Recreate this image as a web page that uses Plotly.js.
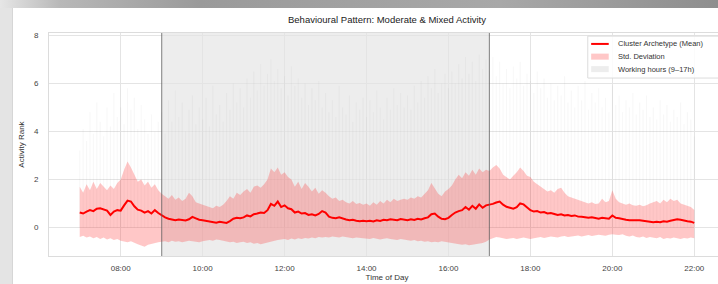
<!DOCTYPE html>
<html>
<head>
<meta charset="utf-8">
<script src="https://cdn.plot.ly/plotly-3.0.1.min.js"></script>
<style>
  html, body { margin: 0; padding: 0; width: 718px; height: 284px; overflow: hidden; background: #e4e4e4; }
  #topbar { position: absolute; left: 0; top: 0; width: 718px; height: 8px;
            background: linear-gradient(to right, #e6e6e6 0px, #b8b8b8 60px, #9a9a9a 200px, #a8a8a8 500px, #8e8e8e 718px); }
  #panel { position: absolute; left: 12px; top: 8px; width: 720px; height: 280px; background: #ffffff;
           border-left: 1px solid #d6d6d6; }
  #chart { position: absolute; left: 0; top: 0; width: 730px; height: 284px; }
</style>
</head>
<body>
<div id="topbar"></div>
<div id="panel"></div>
<div id="chart"></div>
<script>
// ---- Data (5-minute steps, 07:00 to 22:00) ----
const startHour = 7;
const stepMinutes = 5;

const meanActivity = [
  // 07
  0.62, 0.58, 0.66, 0.72, 0.68, 0.78, 0.80, 0.74, 0.70, 0.52, 0.66, 0.72,
  // 08
  0.70, 0.92, 1.12, 1.08, 0.88, 0.74, 0.70, 0.62, 0.68, 0.58, 0.72, 0.60,
  // 09
  0.50, 0.42, 0.36, 0.34, 0.30, 0.33, 0.31, 0.29, 0.34, 0.44, 0.38, 0.32,
  // 10
  0.30, 0.27, 0.24, 0.22, 0.20, 0.24, 0.21, 0.19, 0.26, 0.36, 0.40, 0.38,
  // 11
  0.42, 0.50, 0.46, 0.55, 0.58, 0.62, 0.60, 0.72, 0.98, 0.90, 1.08, 0.85,
  // 12
  0.92, 0.80, 0.76, 0.62, 0.66, 0.58, 0.60, 0.52, 0.55, 0.50, 0.56, 0.68,
  // 13
  0.62, 0.45, 0.40, 0.38, 0.42, 0.36, 0.33, 0.30, 0.32, 0.28, 0.26, 0.28,
  // 14
  0.26, 0.28, 0.25, 0.30, 0.27, 0.32, 0.30, 0.34, 0.33, 0.30, 0.35, 0.32,
  // 15
  0.30, 0.34, 0.31, 0.36, 0.33, 0.38, 0.42, 0.55, 0.58, 0.45, 0.36, 0.34,
  // 16
  0.40, 0.52, 0.62, 0.68, 0.72, 0.85, 0.74, 0.90, 0.78, 0.96, 0.82, 0.92,
  // 17
  0.94, 0.98, 1.04, 1.08, 0.95, 0.86, 0.82, 0.78, 0.84, 1.00, 0.96, 0.82,
  // 18
  0.72, 0.66, 0.68, 0.62, 0.64, 0.58, 0.60, 0.56, 0.52, 0.55, 0.50, 0.52,
  // 19
  0.48, 0.50, 0.45, 0.44, 0.42, 0.40, 0.42, 0.38, 0.36, 0.40, 0.37, 0.36,
  // 20
  0.50, 0.40, 0.38, 0.34, 0.32, 0.30, 0.31, 0.29, 0.30, 0.28, 0.26, 0.24,
  // 21
  0.22, 0.24, 0.22, 0.26, 0.24, 0.28, 0.30, 0.34, 0.32, 0.28, 0.26, 0.24,
  // 22
  0.19
];

const stdUpper = [
  1.70, 1.45, 1.80, 1.55, 1.90, 1.60, 1.85, 1.70, 1.55, 1.75, 1.60, 1.85,
  2.00, 2.40, 2.75, 2.50, 2.20, 1.90, 2.00, 1.75, 1.90, 1.65, 1.80, 1.55,
  1.40, 1.30, 1.20, 1.35, 1.15, 1.25, 1.10, 1.20, 1.45, 1.30, 1.05, 1.00,
  0.95, 0.88, 0.85, 0.80, 0.90, 0.85, 0.95, 1.10, 1.30, 1.20, 1.45, 1.35,
  1.50, 1.60, 1.45, 1.70, 1.75, 1.65, 1.80, 2.00, 2.45, 2.30, 2.50, 2.20,
  2.30, 2.10, 2.00, 1.70, 1.90, 1.60, 1.85, 1.70, 1.50, 1.65, 1.40, 1.55,
  1.45, 1.30, 1.20, 1.25, 1.10, 1.15, 1.05, 1.00, 1.10, 0.98, 1.02, 0.95,
  1.00, 0.90, 1.05, 0.95, 1.10, 1.00, 1.15, 1.05, 1.20, 1.10, 1.15, 1.20,
  1.15, 1.25, 1.20, 1.30, 1.25, 1.40, 1.55, 1.85, 1.60, 1.40, 1.30, 1.50,
  1.60, 1.75, 2.00, 2.20, 2.05, 2.30, 2.15, 2.40, 2.20, 2.45, 2.30, 2.40,
  2.35, 2.50, 2.60, 2.45, 2.20, 2.10, 2.00, 2.15, 2.30, 2.50, 2.35, 2.15,
  2.10, 1.90, 1.80, 1.70, 1.60, 1.50, 1.55, 1.45, 1.60, 1.65, 1.45, 1.30,
  1.25, 1.20, 1.15, 1.10, 1.05, 1.00, 1.05, 0.98, 1.00, 1.20, 1.05, 1.10,
  1.55, 1.20, 1.05, 1.00, 0.95, 1.00, 0.92, 0.90, 0.95, 0.88, 0.92, 1.00,
  1.05, 1.10, 1.00, 1.15, 1.05, 1.20, 1.10, 1.15, 1.00, 0.95, 0.90, 0.85,
  0.73
];

const stdLower = [
  -0.40, -0.35, -0.42, -0.38, -0.45, -0.40, -0.48, -0.42, -0.50, -0.45, -0.52, -0.48,
  -0.55, -0.60, -0.62, -0.58, -0.65, -0.70, -0.75, -0.80, -0.72, -0.68, -0.65, -0.62,
  -0.60, -0.58, -0.62, -0.55, -0.60, -0.58, -0.62, -0.60, -0.55, -0.58, -0.60, -0.62,
  -0.58, -0.55, -0.52, -0.55, -0.50, -0.52, -0.55, -0.58, -0.62, -0.60, -0.65, -0.62,
  -0.60, -0.65, -0.62, -0.68, -0.65, -0.70, -0.66, -0.62, -0.58, -0.55, -0.52, -0.50,
  -0.48, -0.52, -0.46, -0.50, -0.45, -0.48, -0.44, -0.46, -0.42, -0.45, -0.40, -0.42,
  -0.40, -0.42, -0.38, -0.40, -0.42, -0.38, -0.40, -0.42, -0.45, -0.42, -0.44, -0.46,
  -0.45, -0.48, -0.44, -0.46, -0.50, -0.47, -0.45, -0.48, -0.50, -0.52, -0.48, -0.50,
  -0.52, -0.55, -0.52, -0.58, -0.55, -0.60, -0.58, -0.62, -0.60, -0.62, -0.58, -0.60,
  -0.62, -0.65, -0.68, -0.70, -0.72, -0.70, -0.74, -0.72, -0.70, -0.68, -0.65, -0.60,
  -0.50, -0.45, -0.40, -0.42, -0.45, -0.48, -0.46, -0.44, -0.48, -0.45, -0.42, -0.45,
  -0.48, -0.45, -0.42, -0.40, -0.44, -0.42, -0.38, -0.40, -0.42, -0.38, -0.36, -0.40,
  -0.38, -0.36, -0.34, -0.38, -0.35, -0.32, -0.36, -0.34, -0.30, -0.33, -0.35, -0.30,
  -0.28, -0.30, -0.32, -0.28, -0.35, -0.38, -0.34, -0.40, -0.42, -0.38, -0.44, -0.40,
  -0.42, -0.45, -0.40, -0.48, -0.44, -0.46, -0.42, -0.45, -0.48, -0.44, -0.46, -0.42,
  -0.45
];

// faint individual-member peaks (grey vertical traces behind the band)
const memberPeaks = [
  3.2, 4.1, 3.6, 4.8, 3.9, 5.2, 4.4, 3.8, 5.0, 4.2, 5.6, 4.6,
  5.0, 4.3, 5.8, 4.9, 5.4, 4.1, 5.1, 4.5, 3.9, 4.7, 4.0, 4.4,
  4.8, 3.9, 5.3, 4.4, 5.7, 4.6, 5.2, 4.0, 4.9, 5.5, 4.3, 5.0,
  4.5, 5.4, 4.2, 5.9, 4.7, 5.1, 4.4, 5.6, 4.9, 6.0, 5.2, 5.8,
  5.0, 6.2, 5.4, 6.5, 5.7, 6.8, 5.9, 6.4, 7.0, 6.1, 6.6, 5.8,
  6.3, 5.5, 6.7, 5.9, 6.2, 5.4, 6.0, 5.1, 5.8, 5.3, 6.1, 5.0,
  5.6, 4.8, 5.3, 4.6, 5.9, 5.0, 4.7, 5.5, 4.4, 5.2, 4.9, 5.4,
  4.6, 5.3, 4.8, 5.7, 5.0, 4.5, 5.4, 4.9, 5.8, 5.1, 5.6, 5.0,
  5.5, 4.9, 5.9, 5.2, 6.1, 5.4, 6.3, 5.8, 6.6, 5.6, 6.0, 6.4,
  5.8, 6.5, 6.0, 6.8, 6.2, 7.1, 6.4, 6.9, 6.1, 7.2, 6.6, 7.0,
  6.5, 7.1, 6.3, 6.9, 6.0, 6.6, 5.8, 6.7, 6.2, 6.9, 5.9, 6.4,
  6.1, 5.6, 6.5, 5.8, 6.2, 5.4, 6.0, 5.3, 5.9, 5.5, 6.3, 5.2,
  5.7, 5.0, 5.9, 5.3, 6.1, 4.9, 5.6, 5.2, 5.8, 5.0, 5.4, 4.8,
  5.9, 5.1, 5.5, 4.8, 5.3, 5.0, 5.6, 4.7, 5.2, 4.9, 5.5, 4.6,
  5.0, 4.5, 5.3, 4.7, 5.1, 4.4, 4.9, 4.6, 5.2, 4.3, 4.8, 4.5,
  3.8
];

const workStart = '2024-01-01 09:00';
const workEnd = '2024-01-01 17:00';
const xRange = ['2024-01-01 06:15', '2024-01-01 22:45'];
const yRange = [-1.19, 8.1];
const yTicks = [0, 2, 4, 6, 8];

const chartTitle = 'Behavioural Pattern: Moderate & Mixed Activity';
const xTitle = 'Time of Day';
const yTitle = 'Activity Rank';
const legendLabels = ['Cluster Archetype (Mean)', 'Std. Deviation', 'Working hours (9\u201317h)'];

// ---- time categories ----
function pad(n) { return (n < 10 ? '0' : '') + n; }
const times = meanActivity.map((_, i) => {
  const mins = startHour * 60 + i * stepMinutes;
  return '2024-01-01 ' + pad(Math.floor(mins / 60)) + ':' + pad(mins % 60);
});

const FONT = 'Liberation Sans, Arial, Helvetica, sans-serif';
const MEAN_COLOR = '#ff0000';
const BAND_COLOR = 'rgba(255,40,40,0.26)';
const WORK_COLOR = 'rgba(140,140,140,0.16)';

const traces = [
  {
    type: 'bar', x: times, y: memberPeaks,
    marker: { color: 'rgba(150,150,150,0.08)', line: { width: 0 } },
    showlegend: false, hoverinfo: 'skip'
  },
  {
    type: 'scatter', mode: 'lines', x: times, y: stdLower,
    line: { width: 0, color: 'rgba(255,0,0,0)' },
    showlegend: false, hoverinfo: 'skip'
  },
  {
    type: 'scatter', mode: 'lines', x: times, y: stdUpper,
    fill: 'tonexty', fillcolor: BAND_COLOR,
    line: { width: 0, color: 'rgba(255,0,0,0)' },
    name: legendLabels[1], showlegend: false
  },
  {
    type: 'scatter', mode: 'lines', x: times, y: meanActivity,
    line: { color: MEAN_COLOR, width: 2 },
    name: legendLabels[0], showlegend: false
  }
];

// ---- legend box drawn in paper coordinates (compact, matplotlib-like) ----
const legBox = { x0: 0.797, x1: 0.998, y0: 0.798, y1: 0.986 };
const legRows = [0.951, 0.894, 0.838];
const legSymX = [0.802, 0.828];
const legTextX = 0.839;
const legHalf = 0.0135;

const shapes = [
  {
    type: 'rect', xref: 'x', yref: 'paper', x0: workStart, x1: workEnd, y0: 0, y1: 1,
    fillcolor: WORK_COLOR, line: { width: 0 }, layer: 'below'
  },
  {
    type: 'line', xref: 'x', yref: 'paper', x0: workStart, x1: workStart, y0: 0, y1: 1,
    line: { color: 'rgba(90,90,90,0.65)', width: 1.2 }, layer: 'above'
  },
  {
    type: 'line', xref: 'x', yref: 'paper', x0: workEnd, x1: workEnd, y0: 0, y1: 1,
    line: { color: 'rgba(90,90,90,0.65)', width: 1.2 }, layer: 'above'
  },
  {
    type: 'rect', xref: 'paper', yref: 'paper', x0: legBox.x0, x1: legBox.x1, y0: legBox.y0, y1: legBox.y1,
    fillcolor: 'rgba(255,255,255,0.85)', line: { color: '#dcdcdc', width: 1 }, layer: 'above'
  },
  {
    type: 'line', xref: 'paper', yref: 'paper', x0: legSymX[0], x1: legSymX[1], y0: legRows[0], y1: legRows[0],
    line: { color: MEAN_COLOR, width: 2 }, layer: 'above'
  },
  {
    type: 'rect', xref: 'paper', yref: 'paper', x0: legSymX[0], x1: legSymX[1],
    y0: legRows[1] - legHalf, y1: legRows[1] + legHalf,
    fillcolor: BAND_COLOR, line: { width: 0 }, layer: 'above'
  },
  {
    type: 'rect', xref: 'paper', yref: 'paper', x0: legSymX[0], x1: legSymX[1],
    y0: legRows[2] - legHalf, y1: legRows[2] + legHalf,
    fillcolor: WORK_COLOR, line: { width: 0 }, layer: 'above'
  }
];

const annotations = legendLabels.map((t, i) => ({
  text: t, xref: 'paper', yref: 'paper', x: legTextX, y: legRows[i],
  xanchor: 'left', yanchor: 'middle', showarrow: false,
  font: { family: FONT, size: 7.5, color: '#333' }
}));

const layout = {
  width: 730, height: 284,
  margin: { l: 49, r: 5, t: 33, b: 28 },
  paper_bgcolor: 'rgba(0,0,0,0)',
  plot_bgcolor: 'rgba(0,0,0,0)',
  font: { family: FONT, color: '#333', size: 8 },
  bargap: 0.7,
  showlegend: false,
  title: {
    text: chartTitle, font: { family: FONT, size: 9.5, color: '#222' },
    x: 0.5, xref: 'paper', xanchor: 'center',
    y: 1 - 20 / 284, yref: 'container', yanchor: 'middle'
  },
  xaxis: {
    type: 'date', range: xRange,
    tickformat: '%H:%M', dtick: 7200000, tick0: '2024-01-01 00:00',
    showgrid: true, gridcolor: '#e4e4e4', gridwidth: 1,
    zeroline: false, showline: true, mirror: true, linecolor: '#dcdcdc', linewidth: 1,
    ticks: '', ticklabelstandoff: 4,
    tickfont: { family: FONT, size: 8, color: '#444' },
    title: { text: xTitle, font: { family: FONT, size: 8, color: '#333' }, standoff: 2 }
  },
  yaxis: {
    range: yRange, tickvals: yTicks, ticktext: yTicks.map(String),
    showgrid: true, gridcolor: '#e4e4e4', gridwidth: 1,
    zeroline: false, showline: true, mirror: true, linecolor: '#dcdcdc', linewidth: 1,
    ticks: '', ticklabelstandoff: 8,
    tickfont: { family: FONT, size: 8, color: '#444' },
    title: { text: yTitle, font: { family: FONT, size: 8, color: '#333' }, standoff: 8 }
  },
  shapes: shapes,
  annotations: annotations
};

Plotly.newPlot('chart', traces, layout, { displayModeBar: false, staticPlot: true });
</script>
</body>
</html>
